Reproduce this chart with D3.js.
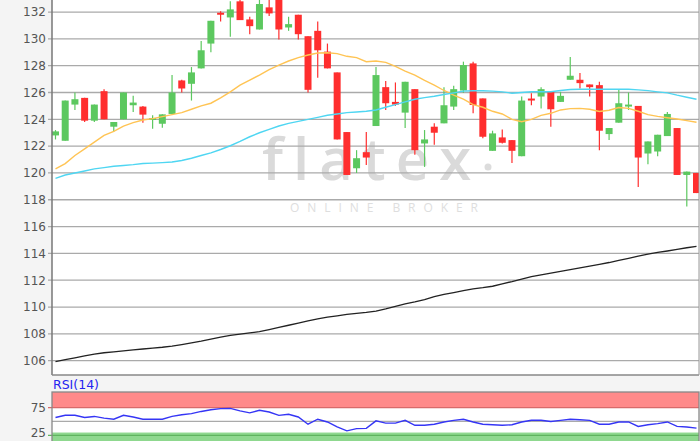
<!DOCTYPE html>
<html>
<head>
<meta charset="utf-8">
<script src="https://cdn.jsdelivr.net/npm/d3@7"></script>
<style>
body { margin: 0; background: #f4f4f4; }
svg { display: block; }
text { font-family: "DejaVu Sans", sans-serif; }
</style>
</head>
<body>
<script>
// candle data, one entry per trading day
var openP  = [122.8,122.4,125.1,125.6,123.9,126.1,123.45,124.0,125.05,124.95,124.05,123.67,124.4,126.9,126.65,127.8,129.65,131.95,131.6,132.8,
              131.45,130.7,132.35,133.1,130.85,131.8,130.2,130.6,129.05,127.5,123.05,120.35,121.55,123.5,126.4,125.3,124.5,126.25,122.2,123.45,
              123.7,124.95,126.15,128.17,125.56,121.65,122.65,122.45,121.25,125.55,125.7,126.05,125.3,126.95,126.95,126.6,126.55,122.9,123.75,125.05,
              125.0,121.45,121.6,122.75,123.35,119.85,120.0];
var highP  = [123.2,125.4,126.0,125.6,125.1,126.25,123.8,126.0,125.75,125.0,124.3,124.37,127.3,126.95,127.9,129.85,131.35,132.07,132.8,133.2,
              131.65,133.0,133.0,133.3,131.65,131.8,130.2,131.3,129.65,127.5,123.05,121.7,123.05,127.9,126.85,126.75,126.8,126.25,123.2,123.7,
              126.4,126.5,128.3,128.3,125.56,123.15,123.25,122.45,125.7,125.95,126.4,126.05,126.05,128.65,127.45,126.6,126.8,123.35,126.25,126.0,
              125.0,122.35,122.85,124.55,123.35,120.1,120.0];
var lowP   = [122.5,122.4,124.7,123.8,123.8,124.0,123.1,124.0,124.55,123.75,123.3,123.37,124.4,126.0,125.4,127.8,129.0,131.3,130.15,131.4,
              130.35,130.7,131.7,129.95,130.6,129.95,126.0,127.1,127.8,122.5,119.85,120.0,120.6,123.5,124.7,125.0,123.35,121.35,120.45,122.1,
              123.7,124.7,125.98,124.45,122.58,121.65,122.2,120.75,121.25,125.05,124.8,123.45,125.3,126.95,126.3,125.7,121.7,122.45,123.75,124.7,
              118.95,120.65,121.25,122.75,119.85,117.5,118.5];
var closeP = [123.1,125.4,125.5,123.9,125.1,124.0,123.8,126.0,125.25,124.35,124.1,124.37,126.0,126.3,127.5,129.15,131.35,131.8,132.2,131.4,
              130.95,132.6,131.9,130.7,131.1,130.35,126.2,129.15,127.8,122.5,119.85,121.1,121.15,127.3,125.2,125.1,126.8,121.7,122.5,123.0,
              125.05,126.25,128.05,125.07,122.7,122.95,122.25,121.65,125.4,125.45,126.25,124.75,125.75,127.25,126.7,126.4,123.15,123.35,125.2,125.1,
              121.15,122.35,122.85,124.4,119.85,120.1,118.5];

// moving averages
var ma20 = [120.3,120.7,121.3,121.8,122.3,122.8,123.1,123.5,123.75,123.95,124.05,124.2,124.35,124.5,124.75,125.0,125.2,125.6,126.05,126.55,
            126.93,127.3,127.7,128.05,128.35,128.6,128.8,128.95,128.97,128.9,128.7,128.6,128.3,128.35,128.25,127.95,127.6,127.3,126.9,126.55,
            126.15,125.8,125.5,125.1,124.9,124.6,124.4,124.0,123.82,124.0,124.3,124.45,124.7,124.8,124.82,124.75,124.58,124.68,124.88,124.82,
            124.6,124.35,124.22,124.12,124.02,123.9,123.78];
var ma50 = [119.6,119.85,120.0,120.15,120.3,120.4,120.5,120.56,120.62,120.7,120.73,120.77,120.82,120.93,121.1,121.3,121.5,121.75,122.03,122.35,
            122.7,123.0,123.25,123.5,123.7,123.85,124.0,124.15,124.3,124.4,124.5,124.55,124.6,124.7,124.9,125.1,125.3,125.5,125.62,125.72,
            125.85,125.97,126.1,126.13,126.13,126.1,126.05,125.95,126.0,126.06,126.06,126.06,126.15,126.22,126.24,126.24,126.24,126.24,126.24,126.24,
            126.2,126.14,126.05,125.97,125.8,125.65,125.5];
var ma200 = [105.93,106.07,106.21,106.35,106.49,106.59,106.66,106.73,106.8,106.87,106.94,107.0,107.08,107.2,107.32,107.45,107.6,107.75,107.89,107.98,
             108.07,108.16,108.32,108.48,108.64,108.8,108.96,109.12,109.24,109.34,109.45,109.53,109.6,109.7,109.86,110.05,110.23,110.38,110.56,110.77,
             110.95,111.08,111.22,111.35,111.44,111.55,111.73,111.9,112.09,112.27,112.4,112.53,112.66,112.79,112.92,113.05,113.18,113.32,113.48,113.63,
             113.79,113.94,114.07,114.18,114.3,114.42,114.52];

// RSI(14)
var rsi = [57,61,61,57,59,56,54,61,58,54,54,54,59,62,64,68,71,73,73.5,69,
           65.5,70,67,61,63,58,45,54,49,40,33,37,37.5,51,47,47,52,43,43,45,
           49,52,54,49,45,44,43,44,49,52,52,50,52,54,53,52,45,45,49,49,
           41,44,46,49,41,40,38];

var priceTicks = [106,108,110,112,114,116,118,120,122,124,126,128,130,132];
var rsiTicks = [75,25];

var W = 700, H = 441;
var left = 52, right = 699, mainBottom = 375;
var rsiTop = 392;

var svg = d3.select("body").append("svg").attr("width", W).attr("height", H);

var x = d3.scaleBand().domain(d3.range(openP.length)).range([left, 700]).paddingInner(0.28);
var xc = function(i) { return x(i) + x.bandwidth() / 2; };
var y = d3.scaleLinear().domain([104.93, 132.9]).range([mainBottom, 0]);
var yr = d3.scaleLinear().domain([0, 103]).range([449.2, rsiTop]);

// main plot background
svg.append("rect").attr("x", left).attr("y", 0).attr("width", right - left).attr("height", mainBottom).attr("fill", "#fff");

svg.append("defs").append("clipPath").attr("id", "clipMain")
  .append("rect").attr("x", left).attr("y", 0).attr("width", right - left).attr("height", mainBottom);

// watermark
var wm = svg.append("g");
wm.append("text").attr("x", 262).attr("y", 180)
  .style("font-family", "'Open Sans', sans-serif").style("font-size", "58px").style("font-weight", "600")
  .style("letter-spacing", "10px").style("fill", "#dadada")
  .text("flatex");
wm.append("circle").attr("cx", 488).attr("cy", 167).attr("r", 3.5).attr("fill", "#dcdcdc");
wm.append("text").attr("x", 290).attr("y", 212).attr("textLength", 188).attr("lengthAdjust", "spacing")
  .style("font-family", "'Open Sans', sans-serif").style("font-size", "12px").style("fill", "#dedede")
  .text("ONLINE BROKER");

// grid
svg.append("g").selectAll("line").data(priceTicks).enter().append("line")
  .attr("x1", left - 4).attr("x2", right)
  .attr("y1", function(d) { return y(d); }).attr("y2", function(d) { return y(d); })
  .attr("stroke", "#aaa").attr("stroke-width", 1.3);

// y axis labels
var yAxis = d3.axisLeft(y).tickValues(priceTicks).tickSize(0).tickPadding(6);
var ga = svg.append("g").attr("transform", "translate(" + left + ",0)").call(yAxis);
ga.select(".domain").remove();
ga.selectAll("text").style("font-size", "12px").style("fill", "#555");

var plot = svg.append("g").attr("clip-path", "url(#clipMain)");

// candles
var up = "#5cc85f", down = "#ff2e2e";
var idx = d3.range(openP.length);
plot.append("g").selectAll("line").data(idx).enter().append("line")
  .attr("x1", xc).attr("x2", xc)
  .attr("y1", function(i) { return y(highP[i]); })
  .attr("y2", function(i) { return y(lowP[i]); })
  .attr("stroke", function(i) { return closeP[i] >= openP[i] ? up : down; })
  .attr("stroke-width", 1.2);
plot.append("g").selectAll("rect").data(idx).enter().append("rect")
  .attr("x", function(i) { return x(i); })
  .attr("width", x.bandwidth())
  .attr("y", function(i) { return y(Math.max(openP[i], closeP[i])); })
  .attr("height", function(i) { return Math.max(2, Math.abs(y(openP[i]) - y(closeP[i]))); })
  .attr("fill", function(i) { return closeP[i] >= openP[i] ? up : down; });

// moving average lines
var line = function(arr) {
  return d3.line().x(function(d, i) { return xc(i); }).y(function(d) { return y(d); })(arr);
};
plot.append("path").attr("d", line(ma20)).attr("fill", "none").attr("stroke", "#ffc454").attr("stroke-width", 1.4);
plot.append("path").attr("d", line(ma50)).attr("fill", "none").attr("stroke", "#4fd6f2").attr("stroke-width", 1.4);
plot.append("path").attr("d", line(ma200)).attr("fill", "none").attr("stroke", "#222").attr("stroke-width", 1.3);

// plot borders
svg.append("line").attr("x1", left).attr("x2", left).attr("y1", 0).attr("y2", mainBottom).attr("stroke", "#777").attr("stroke-width", 1.5);
svg.append("line").attr("x1", left).attr("x2", right).attr("y1", mainBottom).attr("y2", mainBottom).attr("stroke", "#888").attr("stroke-width", 1.5);
svg.append("line").attr("x1", right).attr("x2", right).attr("y1", 0).attr("y2", mainBottom).attr("stroke", "#999").attr("stroke-width", 1);

// RSI panel
svg.append("text").attr("x", 53).attr("y", 389).style("font-size", "12.5px").style("fill", "#2424f0").text("RSI(14)");
svg.append("rect").attr("x", left).attr("y", rsiTop).attr("width", right - left).attr("height", H - rsiTop).attr("fill", "#fff");
svg.append("rect").attr("x", left).attr("y", rsiTop).attr("width", right - left).attr("height", yr(75) - rsiTop)
  .attr("fill", "#ff8a8a");
svg.append("rect").attr("x", left).attr("y", yr(30)).attr("width", right - left).attr("height", H - yr(30))
  .attr("fill", "#8fd88f");
svg.append("line").attr("x1", left - 4).attr("x2", right).attr("y1", yr(75)).attr("y2", yr(75)).attr("stroke", "#d86a6a").attr("stroke-width", 1.3);
svg.append("line").attr("x1", left).attr("x2", right).attr("y1", yr(50)).attr("y2", yr(50)).attr("stroke", "#aaa").attr("stroke-width", 1.3);
svg.append("line").attr("x1", left - 4).attr("x2", right).attr("y1", yr(25)).attr("y2", yr(25)).attr("stroke", "#5fb45f").attr("stroke-width", 1.3);

var rAxis = d3.axisLeft(yr).tickValues(rsiTicks).tickSize(0).tickPadding(6);
var gr = svg.append("g").attr("transform", "translate(" + left + ",0)").call(rAxis);
gr.select(".domain").remove();
gr.selectAll("text").style("font-size", "12px").style("fill", "#555")
  .attr("dy", function(d) { return d === 25 ? "0.1em" : "0.32em"; });

svg.append("path")
  .attr("d", d3.line().x(function(d, i) { return xc(i); }).y(function(d) { return yr(d); })(rsi))
  .attr("fill", "none").attr("stroke", "#3535f5").attr("stroke-width", 1.4);

svg.append("rect").attr("x", left).attr("y", rsiTop).attr("width", right - left).attr("height", H - rsiTop + 5)
  .attr("fill", "none").attr("stroke", "#888").attr("stroke-width", 1.3);
</script>
</body>
</html>
